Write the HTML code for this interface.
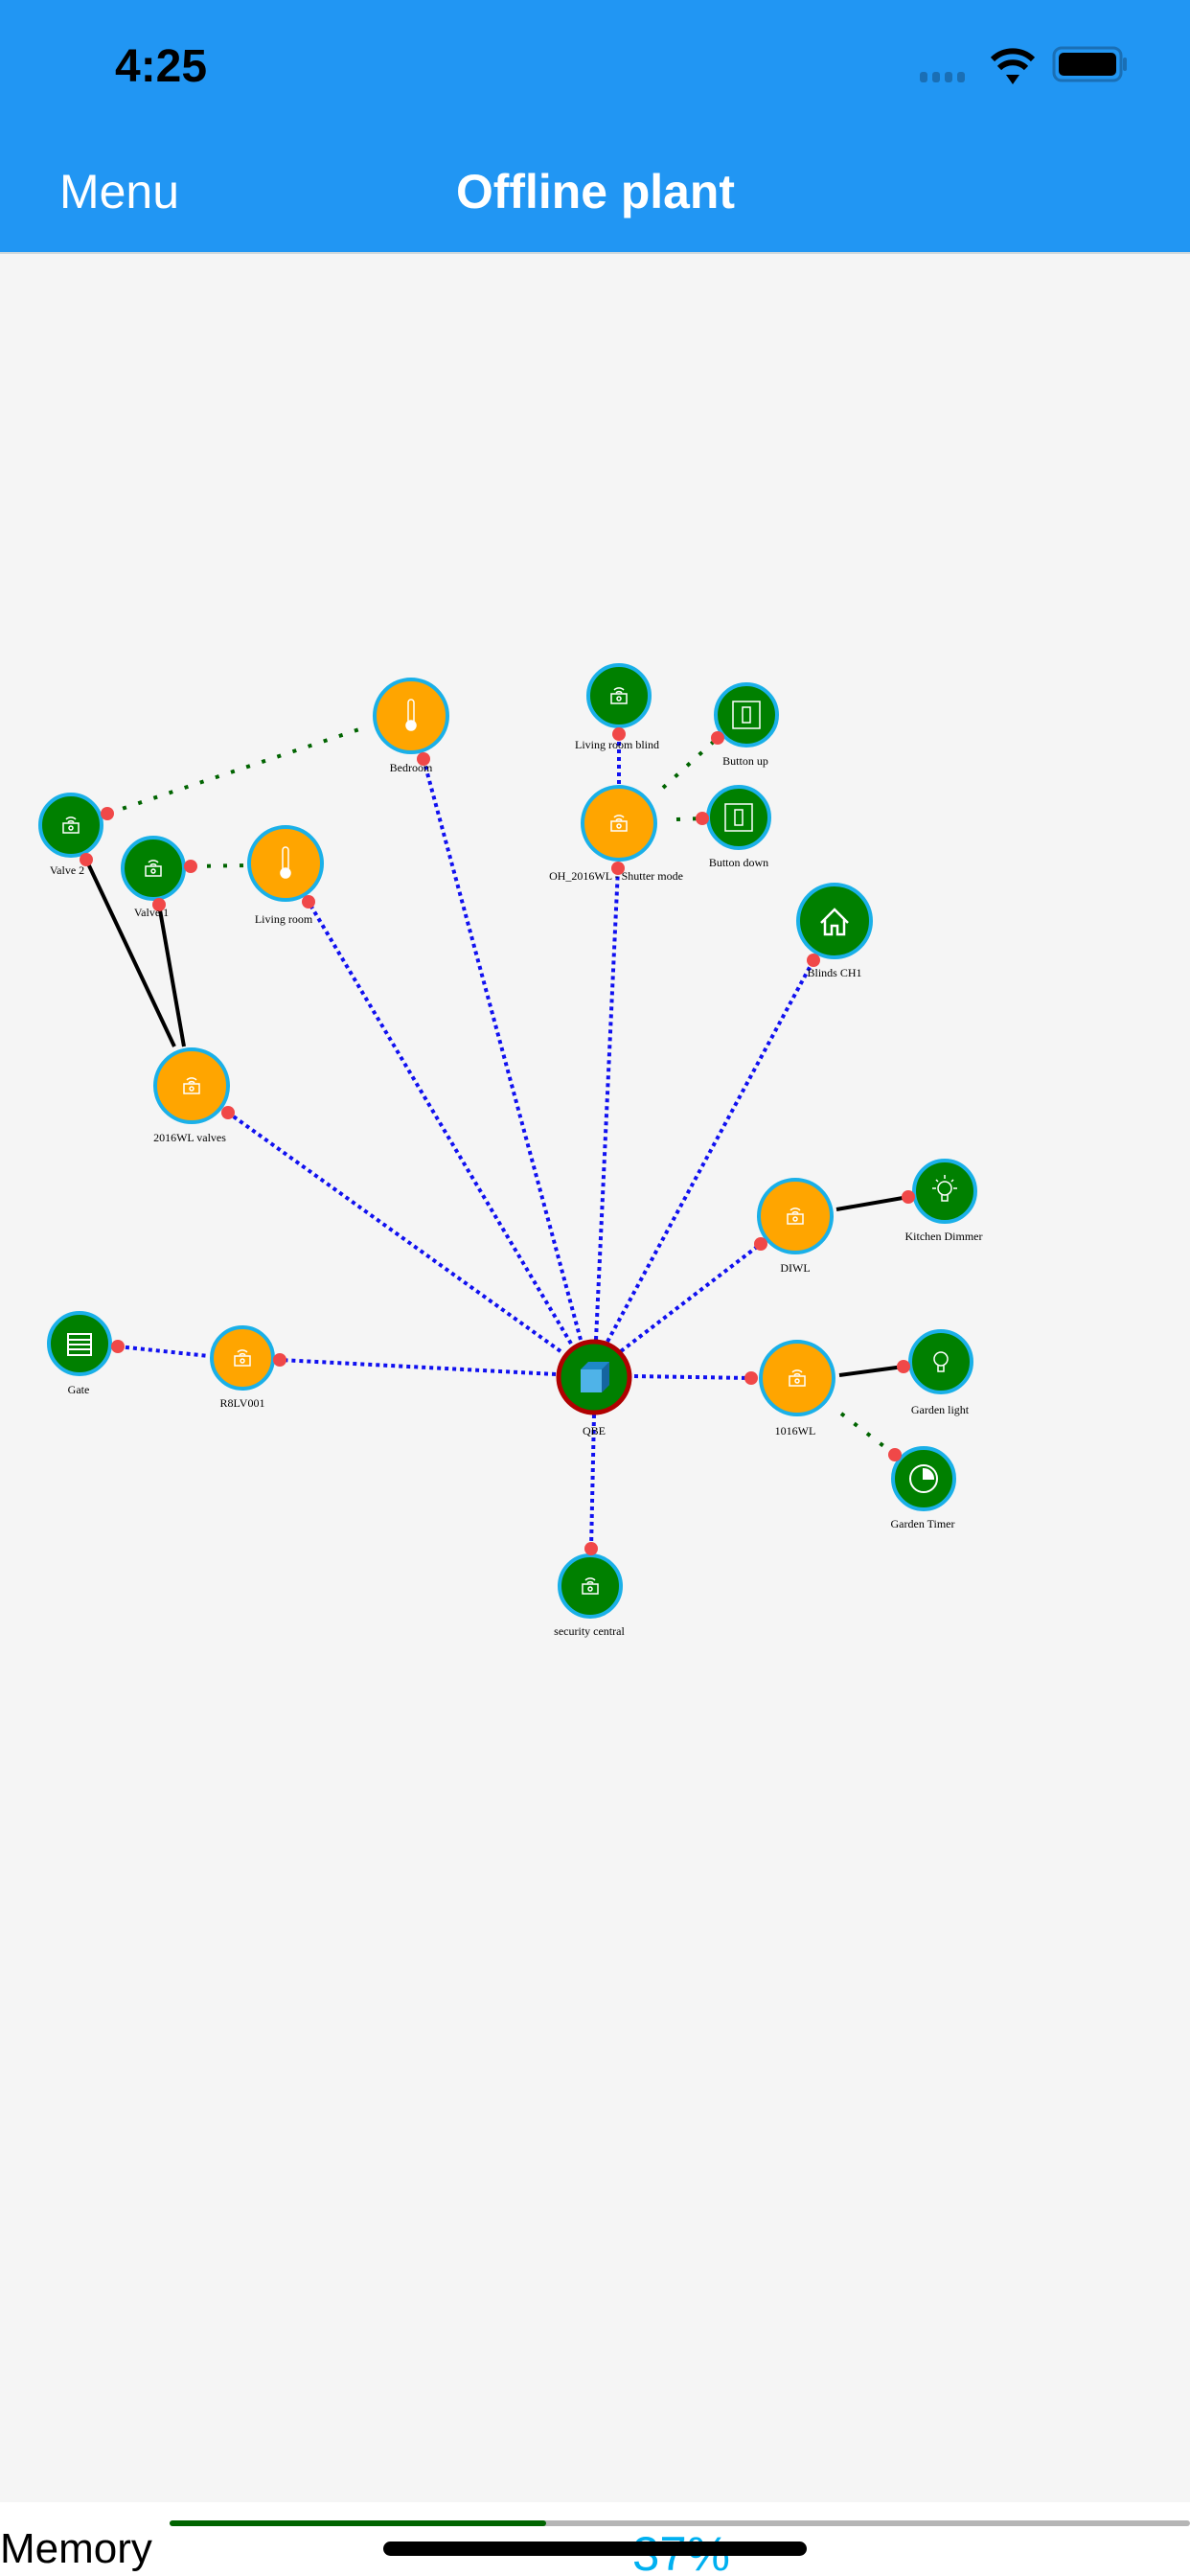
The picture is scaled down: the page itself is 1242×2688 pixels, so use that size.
<!DOCTYPE html>
<html><head><meta charset="utf-8"><style>
html,body{margin:0;padding:0;width:1242px;height:2688px;overflow:hidden;background:#f5f5f5}
svg{display:block}
.lb{font-family:"Liberation Serif",serif;font-size:12px;fill:#000;text-anchor:middle}
</style></head><body>
<svg width="1242" height="2688" viewBox="0 0 1242 2688" xmlns="http://www.w3.org/2000/svg">
<rect x="0" y="0" width="1242" height="263" fill="#2196F3"/>
<rect x="0" y="263" width="1242" height="2" fill="#cfd8dc"/>
<text x="120" y="85" font-family="Liberation Sans,sans-serif" font-weight="bold" font-size="48" fill="#000">4:25</text>
<g fill="#1a6fb5"><rect x="960" y="75" width="8" height="11" rx="3"/><rect x="973" y="75" width="8" height="11" rx="3"/><rect x="986" y="75" width="8" height="11" rx="3"/><rect x="999" y="75" width="8" height="11" rx="3"/></g>
<g fill="none" stroke="#000" stroke-width="6"><path d="M1036 62 A30 30 0 0 1 1078 62"/><path d="M1043 71 A20 20 0 0 1 1071 71"/></g>
<path d="M1050 78 L1064 78 L1057 88 Z" fill="#000"/>
<rect x="1100" y="50" width="70" height="34" rx="8" fill="none" stroke="#1a6fb5" stroke-width="3"/>
<rect x="1105" y="55" width="60" height="24" rx="5" fill="#000"/>
<rect x="1172" y="60" width="4" height="14" rx="2" fill="#1a6fb5"/>
<text x="62" y="217" font-family="Liberation Sans,sans-serif" font-size="50" fill="#fff" textLength="125" lengthAdjust="spacingAndGlyphs">Menu</text>
<text x="476" y="217" font-family="Liberation Sans,sans-serif" font-weight="bold" font-size="50" fill="#fff" textLength="291" lengthAdjust="spacingAndGlyphs">Offline plant</text>

<g stroke="#1010f0" stroke-width="4" stroke-dasharray="4 4" fill="none">
<line x1="585" y1="1410" x2="238" y2="1161"/>
<line x1="596" y1="1402" x2="322" y2="941"/>
<line x1="606" y1="1398" x2="442" y2="792"/>
<line x1="622" y1="1398" x2="645" y2="906"/>
<line x1="634" y1="1400" x2="849" y2="1002"/>
<line x1="648" y1="1410" x2="794" y2="1298"/>
<line x1="580" y1="1434" x2="292" y2="1419"/>
<line x1="662" y1="1436" x2="784" y2="1438"/>
<line x1="620" y1="1476" x2="617" y2="1616"/>
<line x1="646" y1="766" x2="646" y2="820"/>
<line x1="123" y1="1405" x2="218" y2="1415"/>
</g>
<g stroke="#006400" stroke-width="4" stroke-dasharray="4 13" fill="none">
<line x1="112" y1="849" x2="384" y2="758"/>
<line x1="199" y1="904" x2="259" y2="903"/>
<line x1="692" y1="822" x2="749" y2="770"/>
<line x1="706" y1="855" x2="733" y2="854"/>
<line x1="878" y1="1475" x2="934" y2="1518"/>
</g>
<g stroke="#000" stroke-width="4">
<line x1="90" y1="897" x2="182" y2="1092"/>
<line x1="166" y1="944" x2="192" y2="1092"/>
<line x1="873" y1="1262" x2="948" y2="1249"/>
<line x1="876" y1="1435" x2="943" y2="1426"/>
</g>

<g stroke="#1ab0e8" stroke-width="4">
<circle cx="429" cy="747" r="38" fill="#ffa500"/>
<circle cx="646" cy="726" r="32" fill="#008000"/>
<circle cx="779" cy="746" r="32" fill="#008000"/>
<circle cx="771" cy="853" r="32" fill="#008000"/>
<circle cx="646" cy="859" r="38" fill="#ffa500"/>
<circle cx="74" cy="861" r="32" fill="#008000"/>
<circle cx="160" cy="906" r="32" fill="#008000"/>
<circle cx="298" cy="901" r="38" fill="#ffa500"/>
<circle cx="871" cy="961" r="38" fill="#008000"/>
<circle cx="200" cy="1133" r="38" fill="#ffa500"/>
<circle cx="830" cy="1269" r="38" fill="#ffa500"/>
<circle cx="986" cy="1243" r="32" fill="#008000"/>
<circle cx="83" cy="1402" r="32" fill="#008000"/>
<circle cx="253" cy="1417" r="32" fill="#ffa500"/>
<circle cx="832" cy="1438" r="38" fill="#ffa500"/>
<circle cx="982" cy="1421" r="32" fill="#008000"/>
<circle cx="964" cy="1543" r="32" fill="#008000"/>
<circle cx="616" cy="1655" r="32" fill="#008000"/>
</g>
<circle cx="620" cy="1437" r="37" fill="#008000" stroke="#b00000" stroke-width="5"/>
<g transform="translate(620,1437)"><path d="M-14 -8 L-6 -16 L16 -16 L16 8 L8 16 L-14 16 Z" fill="#1e88c8"/><path d="M-14 -8 L8 -8 L8 16 L-14 16 Z" fill="#4fb3e8"/><path d="M8 -8 L16 -16 L16 8 L8 16 Z" fill="#1565a0"/></g>

<g fill="none" stroke="#fff" stroke-width="1.5">
<g transform="translate(646,726)"><rect x="-8" y="-2" width="16" height="10"/><circle cx="0" cy="3" r="2"/><path d="M-5 -6 A7 7 0 0 1 5 -6 M-3 -3 A4 4 0 0 1 3 -3"/></g>
<g transform="translate(646,859)"><rect x="-8" y="-2" width="16" height="10"/><circle cx="0" cy="3" r="2"/><path d="M-5 -6 A7 7 0 0 1 5 -6 M-3 -3 A4 4 0 0 1 3 -3"/></g>
<g transform="translate(74,861)"><rect x="-8" y="-2" width="16" height="10"/><circle cx="0" cy="3" r="2"/><path d="M-5 -6 A7 7 0 0 1 5 -6 M-3 -3 A4 4 0 0 1 3 -3"/></g>
<g transform="translate(160,906)"><rect x="-8" y="-2" width="16" height="10"/><circle cx="0" cy="3" r="2"/><path d="M-5 -6 A7 7 0 0 1 5 -6 M-3 -3 A4 4 0 0 1 3 -3"/></g>
<g transform="translate(200,1133)"><rect x="-8" y="-2" width="16" height="10"/><circle cx="0" cy="3" r="2"/><path d="M-5 -6 A7 7 0 0 1 5 -6 M-3 -3 A4 4 0 0 1 3 -3"/></g>
<g transform="translate(830,1269)"><rect x="-8" y="-2" width="16" height="10"/><circle cx="0" cy="3" r="2"/><path d="M-5 -6 A7 7 0 0 1 5 -6 M-3 -3 A4 4 0 0 1 3 -3"/></g>
<g transform="translate(253,1417)"><rect x="-8" y="-2" width="16" height="10"/><circle cx="0" cy="3" r="2"/><path d="M-5 -6 A7 7 0 0 1 5 -6 M-3 -3 A4 4 0 0 1 3 -3"/></g>
<g transform="translate(832,1438)"><rect x="-8" y="-2" width="16" height="10"/><circle cx="0" cy="3" r="2"/><path d="M-5 -6 A7 7 0 0 1 5 -6 M-3 -3 A4 4 0 0 1 3 -3"/></g>
<g transform="translate(616,1655)"><rect x="-8" y="-2" width="16" height="10"/><circle cx="0" cy="3" r="2"/><path d="M-5 -6 A7 7 0 0 1 5 -6 M-3 -3 A4 4 0 0 1 3 -3"/></g>
<g transform="translate(429,747)"><path d="M-3 6 L-3 -14 A3 3 0 0 1 3 -14 L3 6"/><circle cx="0" cy="10" r="5" fill="#fff"/></g>
<g transform="translate(298,901)"><path d="M-3 6 L-3 -14 A3 3 0 0 1 3 -14 L3 6"/><circle cx="0" cy="10" r="5" fill="#fff"/></g>
<g transform="translate(779,746)"><rect x="-14" y="-14" width="28" height="28"/><rect x="-4" y="-8" width="8" height="16"/></g>
<g transform="translate(771,853)"><rect x="-14" y="-14" width="28" height="28"/><rect x="-4" y="-8" width="8" height="16"/></g>
<g transform="translate(871,961)" stroke-width="2.5"><path d="M-14 2 L0 -12 L14 2 M-10 -2 L-10 14 L-3 14 L-3 5 L3 5 L3 14 L10 14 L10 -2 M-6 -6 L0 -12 L6 -6"/></g>
<g transform="translate(83,1402)" stroke-width="2"><rect x="-12" y="-10" width="24" height="22"/><path d="M-12 -4 H12 M-12 1 H12 M-12 6 H12"/></g>
<g transform="translate(986,1243)"><circle cx="0" cy="-3" r="7"/><path d="M-3 4 V10 H3 V4 M0 -17 V-13 M-13 -3 H-9 M9 -3 H13 M-9 -12 L-7 -10 M9 -12 L7 -10"/></g>
<g transform="translate(982,1421)"><circle cx="0" cy="-3" r="7"/><path d="M-3 4 V10 H3 V4"/></g>
<g transform="translate(964,1543)" stroke-width="2"><circle cx="0" cy="0" r="14"/><path d="M0 0 V-10 A10 10 0 0 1 10 0 Z" fill="#fff"/></g>
</g>

<g fill="#f04848">
<circle cx="442" cy="792" r="7"/><circle cx="646" cy="766" r="7"/><circle cx="749" cy="770" r="7"/><circle cx="733" cy="854" r="7"/><circle cx="645" cy="906" r="7"/>
<circle cx="112" cy="849" r="7"/><circle cx="90" cy="897" r="7"/><circle cx="199" cy="904" r="7"/><circle cx="166" cy="944" r="7"/><circle cx="322" cy="941" r="7"/>
<circle cx="849" cy="1002" r="7"/><circle cx="238" cy="1161" r="7"/><circle cx="794" cy="1298" r="7"/><circle cx="948" cy="1249" r="7"/><circle cx="123" cy="1405" r="7"/>
<circle cx="292" cy="1419" r="7"/><circle cx="784" cy="1438" r="7"/><circle cx="943" cy="1426" r="7"/><circle cx="934" cy="1518" r="7"/><circle cx="617" cy="1616" r="7"/>
</g>

<text class="lb" x="429" y="805">Bedroom</text>
<text class="lb" x="644" y="781">Living room blind</text>
<text class="lb" x="778" y="798">Button up</text>
<text class="lb" x="771" y="904">Button down</text>
<text class="lb" x="643" y="918">OH_2016WL - Shutter mode</text>
<text class="lb" x="70" y="912">Valve 2</text>
<text class="lb" x="158" y="956">Valve 1</text>
<text class="lb" x="296" y="963">Living room</text>
<text class="lb" x="871" y="1019">Blinds CH1</text>
<text class="lb" x="198" y="1191">2016WL valves</text>
<text class="lb" x="830" y="1327">DIWL</text>
<text class="lb" x="985" y="1294">Kitchen Dimmer</text>
<text class="lb" x="82" y="1454">Gate</text>
<text class="lb" x="253" y="1468">R8LV001</text>
<text class="lb" x="620" y="1497">QBE</text>
<text class="lb" x="830" y="1497">1016WL</text>
<text class="lb" x="981" y="1475">Garden light</text>
<text class="lb" x="963" y="1594">Garden Timer</text>
<text class="lb" x="615" y="1706">security central</text>

<rect x="0" y="2611" width="1242" height="77" fill="#fff"/>
<rect x="177" y="2630" width="1065" height="6" rx="3" fill="#b5b5b5"/>
<rect x="177" y="2630" width="393" height="6" rx="3" fill="#006400"/>
<text x="0" y="2674" font-family="Liberation Sans,sans-serif" font-size="44" fill="#000">Memory</text>
<text x="660" y="2682" font-family="Liberation Sans,sans-serif" font-size="50" fill="#00b0f0" textLength="102" lengthAdjust="spacingAndGlyphs">37%</text>
<rect x="400" y="2652" width="442" height="15" rx="7.5" fill="#000"/>
</svg>
</body></html>
